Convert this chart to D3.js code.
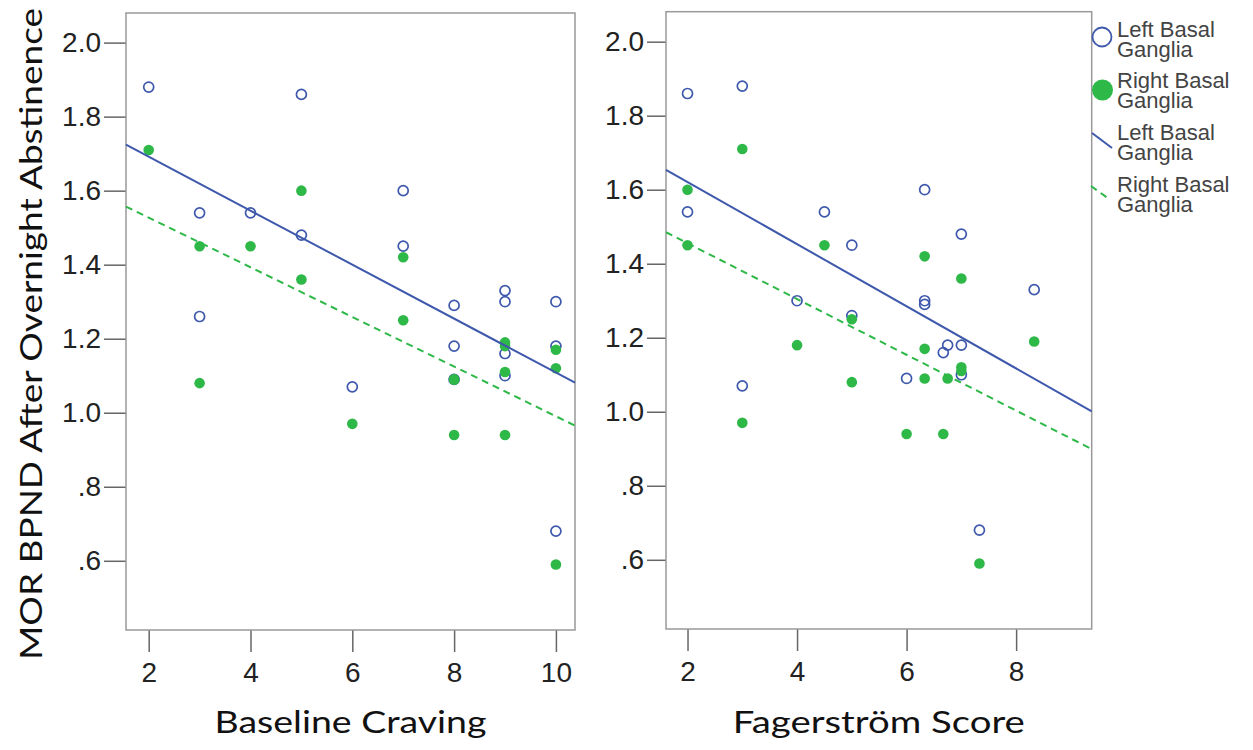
<!DOCTYPE html>
<html>
<head>
<meta charset="utf-8">
<script src="https://cdn.jsdelivr.net/npm/d3@7"></script>
<style>
  body { margin: 0; background: #fff; }
  svg { display: block; }
</style>
</head>
<body>
<svg id="chart" width="1253" height="750"></svg>
<script>
// left panel: baseline craving (some points sit exactly under others)
const cravingLeftX = [2, 3, 3, 4, 5, 5, 6, 7, 7, 8, 8, 8, 9, 9, 9, 9, 10, 10, 10];
const cravingLeftY = [1.88, 1.54, 1.26, 1.54, 1.86, 1.48, 1.07, 1.60, 1.45, 1.29, 1.18, 1.09, 1.33, 1.30, 1.16, 1.10, 1.30, 1.18, 0.68];
const cravingRightX = [2, 3, 3, 4, 5, 5, 6, 7, 7, 8, 8, 8, 9, 9, 9, 9, 10, 10, 10];
const cravingRightY = [1.71, 1.45, 1.08, 1.45, 1.60, 1.36, 0.97, 1.42, 1.25, 1.09, 1.09, 0.94, 1.19, 1.18, 1.11, 0.94, 1.17, 1.12, 0.59];

// right panel: Fagerström score
const fagLeftX = [2, 3, 2, 4.5, 6.33, 7, 5, 4, 6.33, 6.33, 8.33, 5, 6.75, 7, 6.67, 6, 7, 3, 7.33];
const fagLeftY = [1.86, 1.88, 1.54, 1.54, 1.60, 1.48, 1.45, 1.30, 1.30, 1.29, 1.33, 1.26, 1.18, 1.18, 1.16, 1.09, 1.10, 1.07, 0.68];
const fagRightX = [3, 2, 2, 4.5, 6.33, 7, 5, 8.33, 4, 6.33, 7, 7, 5, 6.33, 6.75, 3, 6, 6.67, 7.33];
const fagRightY = [1.71, 1.60, 1.45, 1.45, 1.42, 1.36, 1.25, 1.19, 1.18, 1.17, 1.12, 1.11, 1.08, 1.09, 1.09, 0.97, 0.94, 0.94, 0.59];

const yTicks = [0.6, 0.8, 1.0, 1.2, 1.4, 1.6, 1.8, 2.0];
const cravingTicks = [2, 4, 6, 8, 10];
const fagTicks = [2, 4, 6, 8];
const legendLabels = ['Left Basal', 'Right Basal', 'Left Basal', 'Right Basal'];

const BLUE = '#3E58AC';
const GREEN = '#2EB848';

const svg = d3.select('#chart');

// least squares fit
function fit(xs, ys) {
    const mx = d3.mean(xs), my = d3.mean(ys);
    let sxy = 0, sxx = 0;
    xs.forEach((x, i) => { sxy += (x - mx) * (ys[i] - my); sxx += (x - mx) * (x - mx); });
    const b = sxy / sxx;
    return { a: my - b * mx, b };
}

function panel(opts) {
    const x = d3.scaleLinear().domain(opts.xDomain).range(opts.xRange);
    const y = d3.scaleLinear().domain(opts.yDomain).range(opts.yRange);
    const g = svg.append('g');

    // y axis
    const yAxis = g.append('g')
        .attr('transform', `translate(${opts.xRange[0]},0)`)
        .call(d3.axisLeft(y).tickValues(yTicks).tickSize(opts.yTickSize).tickPadding(3)
            .tickFormat(v => v >= 1 ? v.toFixed(1) : d3.format('.1f')(v).replace(/^0/, '')));
    // x axis
    const xAxis = g.append('g')
        .attr('transform', `translate(0,${opts.yRange[0]})`)
        .call(d3.axisBottom(x).tickValues(opts.xTicks).tickSize(22).tickPadding(10).tickFormat(d3.format('d')));

    [yAxis, xAxis].forEach(ax => {
        ax.select('.domain').remove();
        ax.selectAll('line').attr('stroke', '#666').attr('stroke-width', 1.5);
        ax.selectAll('text').attr('fill', '#222')
            .style('font-family', '"Liberation Sans", Arial, sans-serif')
            .style('font-size', '28px');
    });

    // frame
    g.append('rect')
        .attr('x', opts.xRange[0]).attr('y', opts.yRange[1])
        .attr('width', opts.xRange[1] - opts.xRange[0])
        .attr('height', opts.yRange[0] - opts.yRange[1])
        .attr('fill', 'none').attr('stroke', '#999').attr('stroke-width', 1.5);

    // points
    g.selectAll('circle.lbg')
        .data(opts.lx.map((v, i) => [v, opts.ly[i]]))
        .enter().append('circle')
        .attr('cx', d => x(d[0])).attr('cy', d => y(d[1])).attr('r', 5)
        .attr('fill', 'none').attr('stroke', BLUE).attr('stroke-width', 1.7);

    g.selectAll('circle.rbg')
        .data(opts.rx.map((v, i) => [v, opts.ry[i]]))
        .enter().append('circle')
        .attr('cx', d => x(d[0])).attr('cy', d => y(d[1])).attr('r', 5.3)
        .attr('fill', GREEN);

    // fit lines across the whole frame
    const x0 = opts.xDomain[0], x1 = opts.xDomain[1];
    const fl = fit(opts.lx, opts.ly);
    const fr = fit(opts.rx, opts.ry);
    g.append('line')
        .attr('x1', x(x0)).attr('y1', y(fl.a + fl.b * x0))
        .attr('x2', x(x1)).attr('y2', y(fl.a + fl.b * x1))
        .attr('stroke', BLUE).attr('stroke-width', 2);
    g.append('line')
        .attr('x1', x(x0)).attr('y1', y(fr.a + fr.b * x0))
        .attr('x2', x(x1)).attr('y2', y(fr.a + fr.b * x1))
        .attr('stroke', GREEN).attr('stroke-width', 2).attr('stroke-dasharray', '7,5');

    // x title
    g.append('text')
        .attr('x', (opts.xRange[0] + opts.xRange[1]) / 2)
        .attr('y', 733)
        .attr('text-anchor', 'middle')
        .attr('textLength', opts.titleLen).attr('lengthAdjust', 'spacingAndGlyphs')
        .style('font-family', 'Lato, "Open Sans", sans-serif')
        .style('font-size', '30px')
        .attr('fill', '#111')
        .text(opts.title);
}

panel({
    xDomain: [1.554, 10.375], xRange: [126, 575],
    yDomain: [0.413, 2.08], yRange: [630, 13],
    xTicks: cravingTicks, yTickSize: 22,
    lx: cravingLeftX, ly: cravingLeftY, rx: cravingRightX, ry: cravingRightY,
    title: 'Baseline Craving', titleLen: 272
});

panel({
    xDomain: [1.607, 9.38], xRange: [666, 1091.7],
    yDomain: [0.413, 2.081], yRange: [629, 11.7],
    xTicks: fagTicks, yTickSize: 19,
    lx: fagLeftX, ly: fagLeftY, rx: fagRightX, ry: fagRightY,
    title: 'Fagerström Score', titleLen: 292
});

// y title
svg.append('text')
    .attr('transform', 'translate(42,334) rotate(-90)')
    .attr('text-anchor', 'middle')
    .attr('textLength', 652).attr('lengthAdjust', 'spacingAndGlyphs')
    .style('font-family', 'Lato, "Open Sans", sans-serif')
    .style('font-size', '30px')
    .attr('fill', '#111')
    .text('MOR BPND After Overnight Abstinence');

// legend
const leg = svg.append('g');
leg.append('circle').attr('cx', 1102).attr('cy', 37).attr('r', 9.5)
    .attr('fill', '#fff').attr('stroke', BLUE).attr('stroke-width', 1.8);
leg.append('circle').attr('cx', 1102.5).attr('cy', 90).attr('r', 10.5).attr('fill', GREEN);
leg.append('line').attr('x1', 1092).attr('y1', 133).attr('x2', 1112).attr('y2', 148)
    .attr('stroke', BLUE).attr('stroke-width', 2);
leg.append('line').attr('x1', 1091).attr('y1', 186).attr('x2', 1109).attr('y2', 199)
    .attr('stroke', GREEN).attr('stroke-width', 2).attr('stroke-dasharray', '7,5');

const legendBase = [36.5, 88, 140, 191.5];
legendBase.forEach((yb, i) => {
    const t = leg.append('text')
        .attr('x', 1117)
        .attr('y', yb)
        .attr('fill', '#444')
        .style('font-family', '"Liberation Sans", Arial, sans-serif')
        .style('font-size', '22px');
    t.append('tspan').attr('x', 1117).text(legendLabels[i]);
    t.append('tspan').attr('x', 1117).attr('dy', 20).text('Ganglia');
});
</script>
</body>
</html>
